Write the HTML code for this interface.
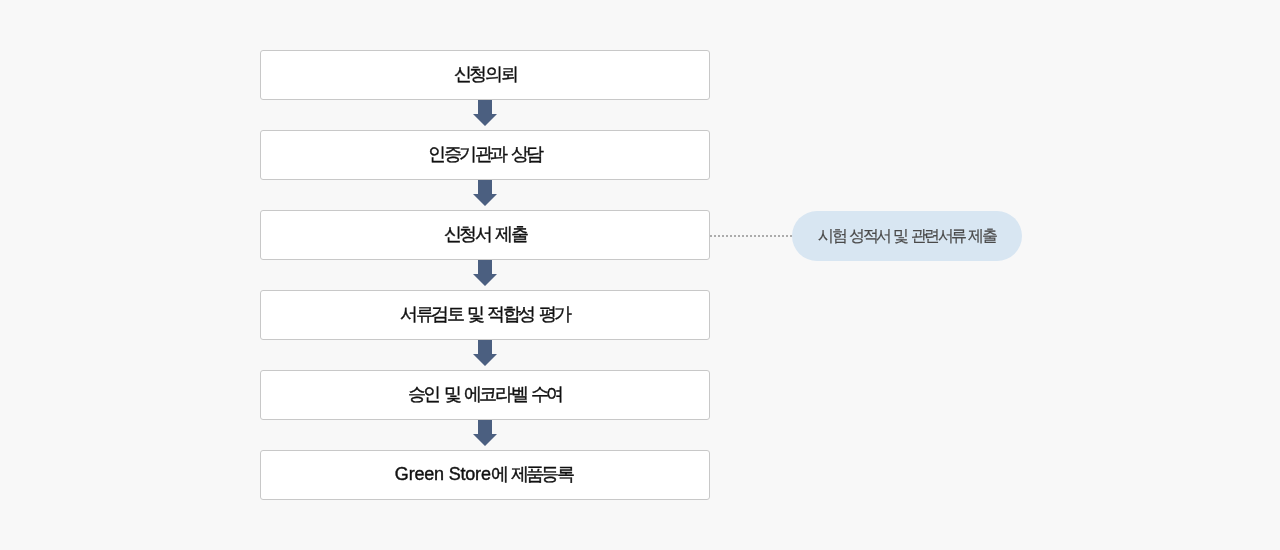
<!DOCTYPE html>
<html><head><meta charset="utf-8">
<style>
html,body{margin:0;padding:0;}
body{width:1280px;height:550px;background:#f8f8f8;position:relative;overflow:hidden;font-family:"Liberation Sans",sans-serif;}
.box{position:absolute;left:260px;width:448px;height:48px;background:#fff;border:1px solid #c8c8c8;border-radius:3px;
 text-align:center;line-height:47px;font-size:18px;color:#111;letter-spacing:-2.4px;word-spacing:2px;-webkit-text-stroke:0.4px #111;will-change:transform;}
.box .en{letter-spacing:-0.2px;word-spacing:0;}
.box .ko{letter-spacing:-2.6px;}
.arr{position:absolute;left:473px;width:24px;height:26px;}
.note{position:absolute;left:792px;top:211px;width:230px;height:50px;border-radius:25px;background:#d8e6f2;
 text-align:center;line-height:50px;font-size:16px;color:#4a4a4a;letter-spacing:-2.4px;word-spacing:1.5px;-webkit-text-stroke:0.2px #4a4a4a;will-change:transform;}
.dot{position:absolute;left:710px;top:235px;width:82px;height:0;border-top:2px dotted #acacac;}
</style></head><body>
<div class="box" style="top:50px">신청의뢰</div>
<div class="box" style="top:130px">인증기관과 상담</div>
<div class="box" style="top:210px">신청서 제출</div>
<div class="box" style="top:290px">서류검토 및 적합성 평가</div>
<div class="box" style="top:370px">승인 및 에코라벨 수여</div>
<div class="box" style="top:450px;text-indent:-3px"><span class="en">Green Store</span><span class="ko">에 제품등록</span></div>
<svg class="arr" style="top:100px" viewBox="0 0 24 26"><path d="M5 0H19V14H24L12 26L0 14H5Z" fill="#4b5f80"/></svg>
<svg class="arr" style="top:180px" viewBox="0 0 24 26"><path d="M5 0H19V14H24L12 26L0 14H5Z" fill="#4b5f80"/></svg>
<svg class="arr" style="top:260px" viewBox="0 0 24 26"><path d="M5 0H19V14H24L12 26L0 14H5Z" fill="#4b5f80"/></svg>
<svg class="arr" style="top:340px" viewBox="0 0 24 26"><path d="M5 0H19V14H24L12 26L0 14H5Z" fill="#4b5f80"/></svg>
<svg class="arr" style="top:420px" viewBox="0 0 24 26"><path d="M5 0H19V14H24L12 26L0 14H5Z" fill="#4b5f80"/></svg>
<div class="dot"></div>
<div class="note">시험 성적서 및 관련서류 제출</div>
</body></html>
